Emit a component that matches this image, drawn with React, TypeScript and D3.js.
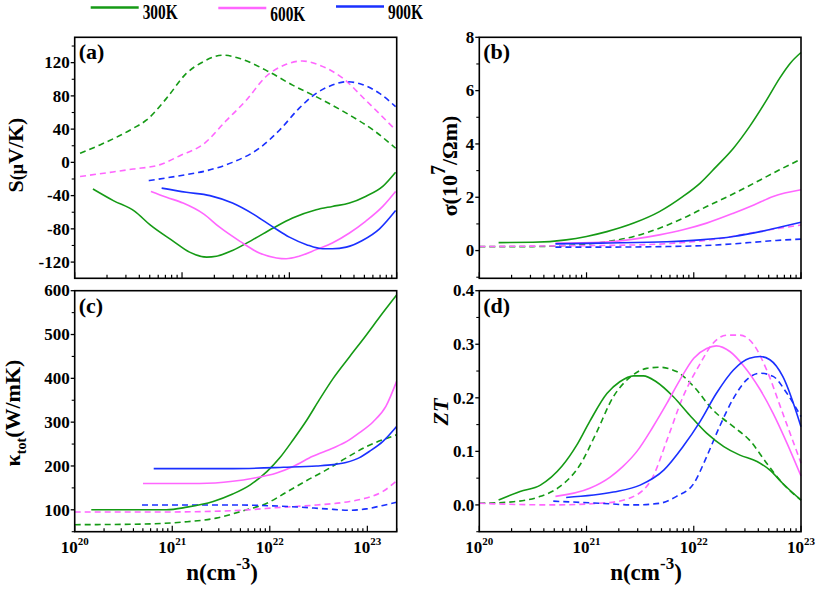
import React from 'react';
import * as d3 from 'd3';

const GREEN = '#159a15';
const PINK = '#ff66ff';
const BLUE = '#1a30ff';
const FONT = '"Liberation Serif", "Times New Roman", serif';

// Legend
const legendLabels = ['300K', '600K', '900K'];
const legendColors = [GREEN, PINK, BLUE];

// Data: [log10(n / cm^-3), value]
// (a) Seebeck S (uV/K)
const a300s: [number, number][] = [[20.17,-32],[20.36,-46],[20.56,-59],[20.70,-75],[20.92,-95],[21.07,-108],[21.23,-114],[21.32,-113],[21.47,-106],[21.66,-93],[21.85,-79],[22.03,-67],[22.25,-57],[22.40,-53],[22.56,-49],[22.71,-41],[22.87,-29],[22.99,-12]];
const a300d: [number, number][] = [[20.05,11],[20.235,21],[20.545,41],[20.67,51],[20.855,77],[21.04,107],[21.196,121],[21.38,129],[21.54,125],[21.78,111],[22.03,93],[22.28,77],[22.56,57],[22.78,39],[22.99,17]];
const a600s: [number, number][] = [[20.71,-35],[20.855,-42],[21.01,-49],[21.2,-62],[21.35,-78],[21.54,-95],[21.72,-109],[21.88,-115],[21.97,-116],[22.09,-113],[22.25,-105],[22.40,-97],[22.56,-85],[22.71,-71],[22.87,-53],[22.99,-35]];
const a600d: [number, number][] = [[20.05,-17],[20.33,-12],[20.545,-8],[20.79,-3],[20.98,8],[21.2,22],[21.41,50],[21.6,75],[21.78,103],[21.97,118],[22.12,122],[22.28,117],[22.5,101],[22.71,75],[22.99,39]];
const a900s: [number, number][] = [[20.81,-31],[21.04,-36],[21.26,-40],[21.47,-49],[21.66,-62],[21.85,-78],[22.0,-90],[22.16,-99],[22.31,-104],[22.4,-104],[22.53,-102],[22.68,-94],[22.84,-80],[22.99,-58]];
const a900d: [number, number][] = [[20.69,-22],[20.98,-16],[21.23,-10],[21.47,0],[21.72,17],[21.91,39],[22.09,65],[22.25,83],[22.40,93],[22.53,97],[22.65,95],[22.84,83],[22.99,67]];

// (b) sigma (1e7 / Ohm m)
const b300s: [number, number][] = [[20.18,0.30],[20.5,0.31],[20.81,0.40],[21.0,0.53],[21.19,0.71],[21.44,1.03],[21.68,1.46],[21.9,2.03],[22.06,2.53],[22.21,3.15],[22.37,3.84],[22.52,4.65],[22.68,5.65],[22.80,6.46],[22.90,7.03],[23.0,7.43]];
const b300d: [number, number][] = [[20.0,0.15],[20.5,0.15],[20.81,0.19],[21.13,0.30],[21.44,0.53],[21.68,0.84],[21.9,1.21],[22.12,1.65],[22.37,2.13],[22.62,2.65],[22.80,3.03],[23.0,3.43]];
const b600s: [number, number][] = [[20.71,0.28],[21.13,0.31],[21.44,0.43],[21.68,0.59],[21.9,0.78],[22.12,1.03],[22.37,1.4],[22.56,1.71],[22.74,2.03],[23.0,2.28]];
const b600d: [number, number][] = [[20.0,0.15],[20.81,0.18],[21.44,0.21],[21.9,0.30],[22.21,0.43],[22.52,0.65],[22.74,0.8],[23.0,0.96]];
const b900s: [number, number][] = [[20.71,0.25],[21.13,0.28],[21.75,0.33],[22.06,0.40],[22.37,0.53],[22.62,0.71],[22.83,0.9],[23.0,1.06]];
const b900d: [number, number][] = [[20.71,0.13],[21.13,0.13],[21.75,0.15],[22.21,0.21],[22.52,0.30],[22.77,0.38],[23.0,0.43]];

// (c) kappa_tot (W/mK)
const c300s: [number, number][] = [[20.17,100],[20.94,100],[21.15,106],[21.42,119],[21.62,136],[21.80,157],[21.97,187],[22.10,218],[22.24,260],[22.38,305],[22.51,352],[22.65,400],[22.82,450],[22.99,499],[23.13,541],[23.30,590]];
const c300d: [number, number][] = [[20.0,66],[20.6,67],[21.11,72],[21.45,81],[21.76,100],[21.97,115],[22.17,140],[22.38,167],[22.58,191],[22.78,218],[22.99,244],[23.30,271]];
const c600s: [number, number][] = [[20.70,160],[21.28,160],[21.62,165],[21.83,172],[22.07,184],[22.24,199],[22.44,222],[22.65,241],[22.79,256],[22.92,276],[23.06,301],[23.19,336],[23.30,393]];
const c600d: [number, number][] = [[20.0,95],[20.94,95],[21.62,98],[22.14,106],[22.48,111],[22.82,119],[22.99,127],[23.16,142],[23.30,166]];
const c900s: [number, number][] = [[20.81,194],[21.62,194],[22.14,197],[22.48,200],[22.65,203],[22.78,208],[22.92,219],[23.02,233],[23.16,256],[23.30,290]];
const c900d: [number, number][] = [[20.69,111],[21.62,111],[22.03,109],[22.31,106],[22.58,102],[22.82,99],[22.99,102],[23.16,110],[23.30,117]];

// (d) ZT
const d300s: [number, number][] = [[20.18,0.009],[20.38,0.025],[20.57,0.037],[20.77,0.072],[20.91,0.112],[21.03,0.156],[21.19,0.208],[21.31,0.230],[21.44,0.241],[21.53,0.241],[21.65,0.230],[21.81,0.202],[21.96,0.168],[22.12,0.134],[22.28,0.109],[22.43,0.093],[22.59,0.081],[22.71,0.065],[22.83,0.040],[23.0,0.009]];
const d300d: [number, number][] = [[20.0,0.003],[20.32,0.006],[20.57,0.016],[20.75,0.034],[20.94,0.075],[21.09,0.134],[21.25,0.202],[21.41,0.239],[21.56,0.255],[21.68,0.257],[21.84,0.249],[22.0,0.221],[22.18,0.177],[22.37,0.146],[22.52,0.121],[22.68,0.078],[22.83,0.040],[23.0,0.009]];
const d600s: [number, number][] = [[20.71,0.016],[21.03,0.031],[21.22,0.052],[21.34,0.072],[21.47,0.1],[21.62,0.146],[21.75,0.19],[21.87,0.233],[22.0,0.274],[22.12,0.292],[22.21,0.297],[22.34,0.286],[22.46,0.261],[22.62,0.215],[22.74,0.171],[22.87,0.115],[23.0,0.054]];
const d600d: [number, number][] = [[20.0,0.003],[20.66,0.0],[21.19,0.004],[21.44,0.016],[21.62,0.053],[21.75,0.121],[21.90,0.202],[22.06,0.264],[22.18,0.302],[22.31,0.317],[22.43,0.317],[22.56,0.299],[22.68,0.252],[22.83,0.171],[23.0,0.078]];
const d900s: [number, number][] = [[20.81,0.014],[21.25,0.024],[21.50,0.037],[21.72,0.065],[21.90,0.109],[22.06,0.156],[22.21,0.208],[22.37,0.252],[22.52,0.274],[22.62,0.277],[22.71,0.271],[22.83,0.24],[23.0,0.146]];
const d900d: [number, number][] = [[20.69,0.007],[21.13,0.003],[21.44,0.0],[21.68,0.003],[21.84,0.016],[22.0,0.04],[22.12,0.09],[22.24,0.146],[22.37,0.199],[22.49,0.233],[22.62,0.246],[22.74,0.24],[22.87,0.208],[23.0,0.165]];

// Tick values
const aTicks = [-120, -80, -40, 0, 40, 80, 120];
const bTicks = [0, 2, 4, 6, 8];
const cTicks = [100, 200, 300, 400, 500, 600];
const dTicks = [0.0, 0.1, 0.2, 0.3, 0.4];
const xMajorExps = [20, 21, 22, 23];

type Series = { data: [number, number][]; color: string; dashed: boolean };

interface PanelCfg {
  label: string;
  x: number; y: number; w: number; h: number;
  xMax: number;
  yDomain: [number, number];
  ticks: number[];
  minorStep: number;
  fmt: (v: number) => string;
  xLabels: boolean;
  series: Series[];
}

const mk = (s3: [number, number][], d3_: [number, number][], s6: [number, number][], d6: [number, number][], s9: [number, number][], d9: [number, number][]): Series[] => [
  { data: d3_, color: GREEN, dashed: true },
  { data: d6, color: PINK, dashed: true },
  { data: d9, color: BLUE, dashed: true },
  { data: s3, color: GREEN, dashed: false },
  { data: s6, color: PINK, dashed: false },
  { data: s9, color: BLUE, dashed: false },
];

const panels: PanelCfg[] = [
  { label: '(a)', x: 74.7, y: 37.3, w: 322, h: 241, xMax: 1e23, yDomain: [-139.5, 150.5], ticks: aTicks, minorStep: 20, fmt: (v) => String(v), xLabels: false, series: mk(a300s, a300d, a600s, a600d, a900s, a900d) },
  { label: '(b)', x: 479.3, y: 37.3, w: 321.7, h: 241, xMax: 1e23, yDomain: [-1.04, 8], ticks: bTicks, minorStep: 1, fmt: (v) => String(v), xLabels: false, series: mk(b300s, b300d, b600s, b600d, b900s, b900d) },
  { label: '(c)', x: 74.7, y: 290.7, w: 322, h: 241, xMax: 2e23, yDomain: [50, 600], ticks: cTicks, minorStep: 50, fmt: (v) => String(v), xLabels: true, series: mk(c300s, c300d, c600s, c600d, c900s, c900d) },
  { label: '(d)', x: 479.3, y: 290.7, w: 321.7, h: 241, xMax: 1e23, yDomain: [-0.05, 0.4], ticks: dTicks, minorStep: 0.05, fmt: (v) => v.toFixed(1), xLabels: true, series: mk(d300s, d300d, d600s, d600d, d900s, d900d) },
];

function Panel({ p }: { p: PanelCfg }) {
  const xs = d3.scaleLog().domain([1e20, p.xMax]).range([p.x, p.x + p.w]);
  const ys = d3.scaleLinear().domain(p.yDomain).range([p.y + p.h, p.y]);
  const line = d3.line<[number, number]>()
    .x((d) => xs(Math.pow(10, d[0])))
    .y((d) => ys(d[1]))
    .curve(d3.curveMonotoneX);

  const minors: number[] = [];
  const start = Math.ceil(p.yDomain[0] / p.minorStep - 1e-6);
  const end = Math.floor(p.yDomain[1] / p.minorStep + 1e-6);
  for (let i = start; i <= end; i++) {
    const v = +(i * p.minorStep).toFixed(6);
    if (!p.ticks.some((t) => Math.abs(t - v) < 1e-9)) minors.push(v);
  }

  const xTicks: { v: number; major: boolean }[] = [];
  for (let e = 20; e <= 23; e++) {
    for (let k = 1; k <= 9; k++) {
      const v = k * Math.pow(10, e);
      if (v >= 1e20 && v <= p.xMax * 1.0001) xTicks.push({ v, major: k === 1 });
    }
  }
  const bottom = p.y + p.h;

  return (
    <g>
      <defs>
        <clipPath id={`clip${p.label}`}>
          <rect x={p.x} y={p.y} width={p.w} height={p.h} />
        </clipPath>
      </defs>
      <g clipPath={`url(#clip${p.label})`}>
        {p.series.map((s, i) => (
          <path key={i} d={line(s.data) || ''} fill="none" stroke={s.color} strokeWidth={1.6}
            strokeDasharray={s.dashed ? '6,4' : undefined} />
        ))}
      </g>
      <rect x={p.x} y={p.y} width={p.w} height={p.h} fill="none" stroke="#000" strokeWidth={1.6} />
      {p.ticks.map((t) => (
        <g key={'t' + t}>
          <line x1={p.x - 4} x2={p.x} y1={ys(t)} y2={ys(t)} stroke="#000" strokeWidth={1.3} />
          <text x={p.x - 5} y={ys(t)} dy="0.34em" textAnchor="end" fontSize={17} fontWeight="bold" fontFamily={FONT}>{p.fmt(t)}</text>
        </g>
      ))}
      {minors.map((t) => (
        <line key={'m' + t} x1={p.x - 3} x2={p.x} y1={ys(t)} y2={ys(t)} stroke="#000" strokeWidth={1.1} />
      ))}
      {xTicks.map((t, i) => (
        <line key={'x' + i} x1={xs(t.v)} x2={xs(t.v)} y1={bottom} y2={bottom - (t.major ? 6 : 3.5)} stroke="#000" strokeWidth={1.2} />
      ))}
      {p.xLabels && xMajorExps.filter((e) => Math.pow(10, e) <= p.xMax * 1.0001).map((e) => (
        <text key={'xl' + e} x={xs(Math.pow(10, e))} y={bottom + 21} textAnchor="middle" fontSize={17} fontWeight="bold" fontFamily={FONT}>
          10<tspan dy={-8} fontSize={11}>{e}</tspan>
        </text>
      ))}
      <text x={p.x + 4} y={p.y + 22} fontSize={22} fontWeight="bold" fontFamily={FONT}>{p.label}</text>
    </g>
  );
}

export default function App() {
  const legendX = [90.7, 218.3, 336];
  const legendLineY = [7.5, 8, 6.5];
  const legendTextY = [18.5, 20.5, 18.5];
  return (
    <svg width={816} height={594} style={{ position: 'absolute', left: 0, top: 0, background: '#fff' }}>
      <rect width={816} height={594} fill="#fff" />
      {legendLabels.map((l, i) => (
        <g key={l}>
          <line x1={legendX[i]} x2={legendX[i] + 48} y1={legendLineY[i]} y2={legendLineY[i]} stroke={legendColors[i]} strokeWidth={2.5} />
          <text x={legendX[i] + 52} y={legendTextY[i]} fontSize={20} fontWeight="bold" fontFamily={FONT} textLength={35} lengthAdjust="spacingAndGlyphs">{l}</text>
        </g>
      ))}
      {panels.map((p) => <Panel key={p.label} p={p} />)}
      {/* y-axis titles */}
      <text transform="translate(23,155) rotate(-90)" textAnchor="middle" fontSize={22} fontWeight="bold" fontFamily={FONT}>
        S<tspan fontSize={18}>(μ</tspan>V/K)
      </text>
      <text transform="translate(457,166) rotate(-90)" textAnchor="middle" fontSize={22} fontWeight="bold" fontFamily={FONT}>
        σ(10<tspan dy={-12} fontSize={20}>7</tspan><tspan dy={12}>/Ωm)</tspan>
      </text>
      <text transform="translate(20,413) rotate(-90)" textAnchor="middle" fontSize={22} fontWeight="bold" fontFamily={FONT}>
        κ<tspan dy={6} fontSize={14}>tot</tspan><tspan dy={-6}>(W/mK)</tspan>
      </text>
      <text transform="translate(448,412) rotate(-90)" textAnchor="middle" fontSize={22} fontWeight="bold" fontStyle="italic" fontFamily={FONT}>
        ZT
      </text>
      {/* x-axis titles */}
      <text x={222} y={580} textAnchor="middle" fontSize={23} fontWeight="bold" fontFamily={FONT}>
        n(cm<tspan dy={-11} fontSize={17}>-3</tspan><tspan dy={11}>)</tspan>
      </text>
      <text x={646} y={580} textAnchor="middle" fontSize={23} fontWeight="bold" fontFamily={FONT}>
        n(cm<tspan dy={-11} fontSize={17}>-3</tspan><tspan dy={11}>)</tspan>
      </text>
    </svg>
  );
}
